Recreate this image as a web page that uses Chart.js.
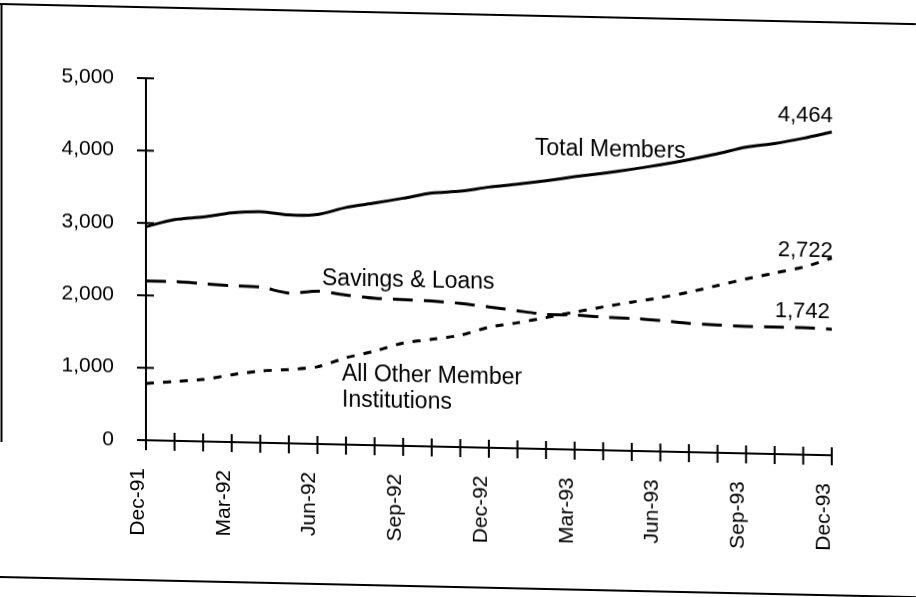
<!DOCTYPE html>
<html><head><meta charset="utf-8">
<script src="https://cdn.jsdelivr.net/npm/chart.js@4.4.1/dist/chart.umd.min.js"></script>
<style>
html,body{margin:0;padding:0;background:#fff;overflow:hidden;width:916px;height:597px;}
#wrap{position:absolute;left:0;top:0;width:916px;height:597px;transform:skewY(1.26deg);transform-origin:0 0;}
canvas{display:block;}
</style></head><body>
<div id="wrap"><canvas id="c" width="916" height="597"></canvas></div>
<script>
// ---- data ----
const months = ['Dec-91','Jan-92','Feb-92','Mar-92','Apr-92','May-92','Jun-92','Jul-92','Aug-92','Sep-92','Oct-92','Nov-92','Dec-92',
                'Jan-93','Feb-93','Mar-93','Apr-93','May-93','Jun-93','Jul-93','Aug-93','Sep-93','Oct-93','Nov-93','Dec-93'];
const totalMembers = [2950,3055,3100,3165,3190,3155,3170,3275,3345,3420,3500,3535,3600,3650,3705,3770,3825,3890,3960,4040,4130,4230,4290,4370,4464];
const savingsLoans = [2200,2200,2180,2160,2150,2075,2110,2065,2030,2020,2010,1985,1945,1900,1860,1860,1840,1830,1810,1780,1765,1755,1755,1755,1742];
const otherMembers = [785,820,855,930,990,1020,1065,1200,1300,1420,1480,1545,1665,1735,1815,1900,1980,2055,2125,2210,2310,2410,2500,2590,2722];
const yTickValues = [0,1000,2000,3000,4000,5000];
const seriesNames = ['Total Members','Savings & Loans','All Other Member','Institutions'];

// ---- layout / style ----
const FONT = '"Liberation Sans", Arial, Helvetica, sans-serif';
const fmt = v => Number(v).toLocaleString('en-US');
const notes = [
  {text: seriesNames[0], x:535, y:143, align:'left', size:23},
  {text: seriesNames[1], x:322, y:278, align:'left', size:23},
  {text: seriesNames[2], x:342, y:373, align:'left', size:23},
  {text: seriesNames[3], x:342, y:399, align:'left', size:23},
  {text: fmt(totalMembers[totalMembers.length-1]), x:833, y:104, align:'right', size:22},
  {text: fmt(otherMembers[otherMembers.length-1]), x:833, y:239, align:'right', size:22},
  {text: fmt(savingsLoans[savingsLoans.length-1]), x:830, y:300, align:'right', size:22}
];

const crossTicks = {
  id:'crossTicks',
  afterDraw(chart){
    const {ctx, scales:{x, y}} = chart;
    ctx.save();
    ctx.strokeStyle = '#000';
    ctx.lineWidth = 2;
    const yb = y.getPixelForValue(0);
    months.forEach((m, i) => {
      const px = x.getPixelForValue(i);
      ctx.beginPath(); ctx.moveTo(px, yb - 8); ctx.lineTo(px, yb + 10); ctx.stroke();
    });
    const xl = x.left;
    yTickValues.forEach(v => {
      const py = y.getPixelForValue(v);
      ctx.beginPath(); ctx.moveTo(xl - 9, py); ctx.lineTo(xl + 8, py); ctx.stroke();
    });
    ctx.restore();
  }
};

const annotations = {
  id:'annotations',
  afterDraw(chart){
    const ctx = chart.ctx;
    ctx.save();
    ctx.fillStyle = '#000';
    ctx.textBaseline = 'alphabetic';
    notes.forEach(n => {
      ctx.font = n.size + 'px ' + FONT;
      ctx.textAlign = n.align;
      ctx.fillText(n.text, n.x, n.y);
    });
    // page frame
    ctx.strokeStyle = '#000';
    ctx.lineWidth = 2;
    ctx.beginPath(); ctx.moveTo(0, 4); ctx.lineTo(916, 4); ctx.stroke();
    ctx.beginPath(); ctx.moveTo(1.5, 4); ctx.lineTo(1.5, 442); ctx.stroke();
    ctx.beginPath(); ctx.moveTo(0, 577); ctx.lineTo(916, 577); ctx.stroke();
    ctx.restore();
  }
};

new Chart(document.getElementById('c').getContext('2d'), {
  type: 'line',
  data: {
    labels: months,
    datasets: [
      {label:'Total Members', data: totalMembers, borderColor:'#000', borderWidth:3, pointRadius:0, tension:0.25, fill:false},
      {label:'Savings & Loans', data: savingsLoans, borderColor:'#000', borderWidth:3, borderDash:[20,11], pointRadius:0, tension:0.25, fill:false},
      {label:'All Other Member Institutions', data: otherMembers, borderColor:'#000', borderWidth:3, borderDash:[8,9], pointRadius:0, tension:0.25, fill:false}
    ]
  },
  options: {
    responsive: false,
    animation: false,
    layout: {padding: {left:0, right:84, top:75, bottom:0}},
    plugins: {legend: {display:false}, tooltip: {enabled:false}},
    scales: {
      x: {
        type: 'category', offset: false,
        grid: {display:false, drawTicks:false},
        border: {display:true, color:'#000', width:2},
        ticks: {autoSkip:false, maxRotation:90, minRotation:90, padding:28, labelOffset:-8, color:'#000',
                font:{family:FONT, size:21}, callback:(v, i) => (i % 3 === 0 ? months[i] : '')},
        afterFit(s){ s.height = 160; }
      },
      y: {
        min: 0, max: 5000,
        grid: {display:false, drawTicks:false},
        border: {display:true, color:'#000', width:2},
        ticks: {stepSize:1000, padding:32, color:'#000', font:{family:FONT, size:21}, callback: v => fmt(v)},
        afterFit(s){ s.width = 146; }
      }
    }
  },
  plugins: [crossTicks, annotations]
});
</script>
</body></html>
